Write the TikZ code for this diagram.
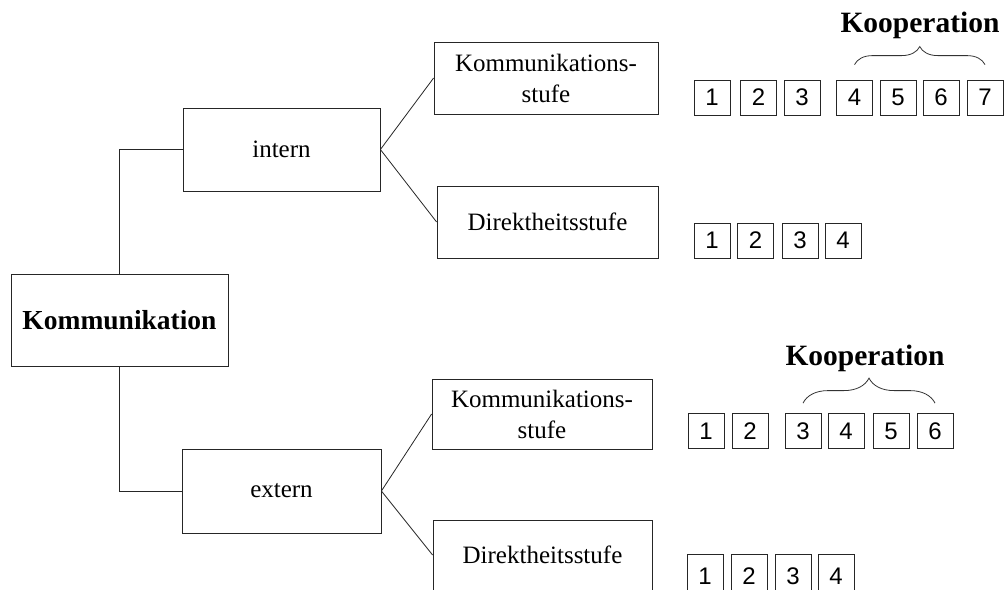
\documentclass[tikz,border=0pt]{standalone}
\usepackage{fontspec}
\setmainfont{Liberation Serif}
\newfontfamily\numfont{Liberation Sans}
\usetikzlibrary{decorations.pathreplacing,calc}
\begin{document}
\begin{tikzpicture}[x=1pt,y=-1pt,
  line width=0.8pt,
  bigbox/.style={draw=black!85,inner sep=0pt,align=center,font=\fontsize{25}{31}\selectfont},
  numbox/.style={draw=black!85,inner sep=0pt,minimum width=36pt,minimum height=35pt,font=\numfont\fontsize{24}{24}\selectfont},
  conn/.style={draw=black!85,line width=0.8pt},
  kbrace/.style={draw=black!80,line width=0.8pt,decorate,decoration={brace,amplitude=#1}},
  klabel/.style={font=\bfseries\fontsize{29.5}{30}\selectfont,anchor=base}
]
\useasboundingbox (0,0) rectangle (1006,589);
\clip (0,0) rectangle (1006,589);

% main boxes
\node[bigbox,minimum width=217pt,minimum height=92pt,font=\bfseries\fontsize{27.5}{30}\selectfont] (komm) at (119.5,320) {Kommunikation};
\node[bigbox,minimum width=197pt,minimum height=83pt] (intern) at (281.5,149.5) {intern};
\node[bigbox,minimum width=199pt,minimum height=84pt] (extern) at (281.5,491) {extern};
\node[bigbox,minimum width=224pt,minimum height=72pt] (ks1) at (546,78) {Kommunikations-\\stufe};
\node[bigbox,minimum width=221pt,minimum height=72pt] (ds1) at (547.5,222) {Direktheitsstufe};
\node[bigbox,minimum width=220pt,minimum height=70pt] (ks2) at (542,414) {Kommunikations-\\stufe};
\node[bigbox,minimum width=219pt,minimum height=70pt] (ds2) at (542.5,555) {Direktheitsstufe};

% connectors
\draw[conn] (komm.north) |- (intern.west);
\draw[conn] (komm.south) |- (extern.west);
\draw[conn] (intern.east) -- (ks1.west);
\draw[conn] (intern.east) -- (ds1.west);
\draw[conn] (extern.east) -- (ks2.west);
\draw[conn] (extern.east) -- (ds2.west);

% number rows
\foreach \n/\x in {1/712,2/758.5,3/802,4/854.5,5/898,6/941,7/985}
  \node[numbox] (a\n) at (\x,97.5) {\n};
\foreach \n/\x in {1/712,2/755.5,3/800,4/843}
  \node[numbox] (b\n) at (\x,240.5) {\n};
\foreach \n/\x in {1/706,2/750,3/803,4/846,5/891,6/935}
  \node[numbox] (c\n) at (\x,431) {\n};
\foreach \n/\x in {1/705,2/749,3/793,4/836}
  \node[numbox,minimum height=44pt] (d\n) at (\x,576) {\n};

% braces and labels
\draw[kbrace=18pt] ([yshift=15pt]a4.north) -- ([yshift=15pt]a7.north);
\node[klabel] (koop1) at (920,32) {Kooperation};
\draw[kbrace=25pt] ([yshift=10pt]c3.north) -- ([yshift=10pt]c6.north);
\node[klabel] (koop2) at (865,365) {Kooperation};
\end{tikzpicture}
\end{document}
